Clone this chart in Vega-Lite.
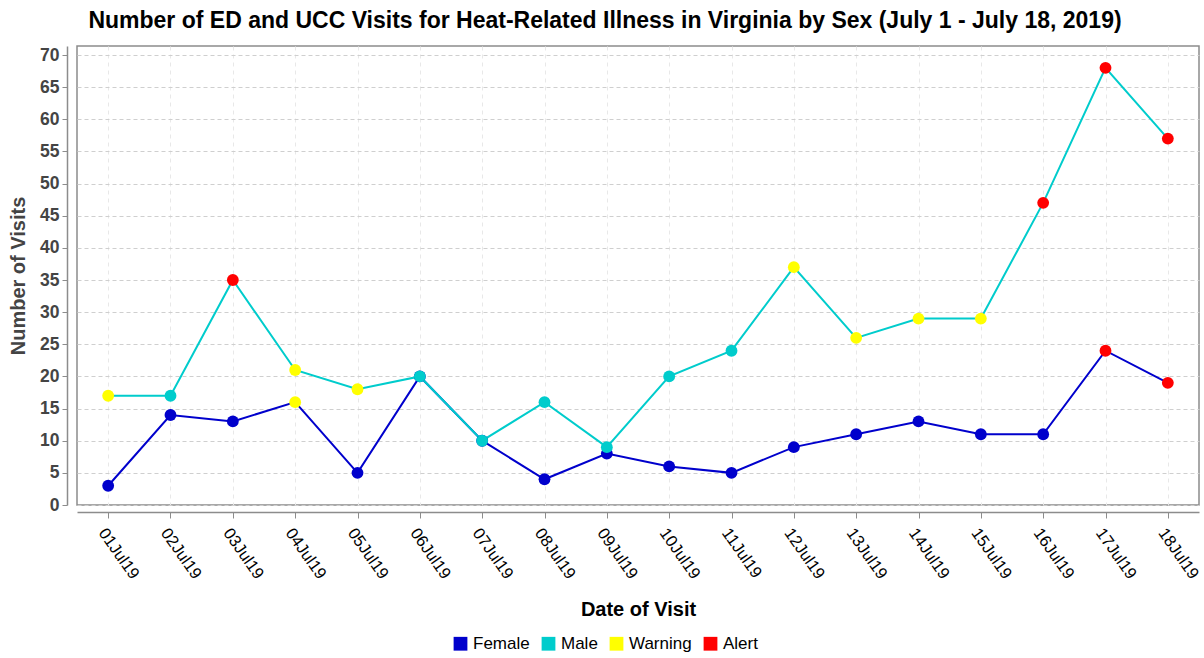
{
  "$schema": "https://vega.github.io/schema/vega-lite/v6.json",
  "autosize": {"type": "none"},
  "width": 1122,
  "height": 459,
  "padding": {"left": 77, "top": 46, "right": 5, "bottom": 153},
  "title": {"text": "Number of ED and UCC Visits for Heat-Related Illness in Virginia by Sex (July 1 - July 18, 2019)", "font": "Liberation Sans", "fontSize": 23, "fontWeight": "bold", "color": "#000", "offset": 13, "anchor": "middle", "dx": -33},
  "config": {
    "font": "Liberation Sans",
    "view": {"stroke": "#8c8c8c", "strokeWidth": 1.5}
  },
  "data": {"values": [
    {"date": "01Jul19", "sex": "Female", "visits": 3, "status": "Female"},
    {"date": "02Jul19", "sex": "Female", "visits": 14, "status": "Female"},
    {"date": "03Jul19", "sex": "Female", "visits": 13, "status": "Female"},
    {"date": "04Jul19", "sex": "Female", "visits": 16, "status": "Warning"},
    {"date": "05Jul19", "sex": "Female", "visits": 5, "status": "Female"},
    {"date": "06Jul19", "sex": "Female", "visits": 20, "status": "Female"},
    {"date": "07Jul19", "sex": "Female", "visits": 10, "status": "Female"},
    {"date": "08Jul19", "sex": "Female", "visits": 4, "status": "Female"},
    {"date": "09Jul19", "sex": "Female", "visits": 8, "status": "Female"},
    {"date": "10Jul19", "sex": "Female", "visits": 6, "status": "Female"},
    {"date": "11Jul19", "sex": "Female", "visits": 5, "status": "Female"},
    {"date": "12Jul19", "sex": "Female", "visits": 9, "status": "Female"},
    {"date": "13Jul19", "sex": "Female", "visits": 11, "status": "Female"},
    {"date": "14Jul19", "sex": "Female", "visits": 13, "status": "Female"},
    {"date": "15Jul19", "sex": "Female", "visits": 11, "status": "Female"},
    {"date": "16Jul19", "sex": "Female", "visits": 11, "status": "Female"},
    {"date": "17Jul19", "sex": "Female", "visits": 24, "status": "Alert"},
    {"date": "18Jul19", "sex": "Female", "visits": 19, "status": "Alert"},
    {"date": "01Jul19", "sex": "Male", "visits": 17, "status": "Warning"},
    {"date": "02Jul19", "sex": "Male", "visits": 17, "status": "Male"},
    {"date": "03Jul19", "sex": "Male", "visits": 35, "status": "Alert"},
    {"date": "04Jul19", "sex": "Male", "visits": 21, "status": "Warning"},
    {"date": "05Jul19", "sex": "Male", "visits": 18, "status": "Warning"},
    {"date": "06Jul19", "sex": "Male", "visits": 20, "status": "Male"},
    {"date": "07Jul19", "sex": "Male", "visits": 10, "status": "Male"},
    {"date": "08Jul19", "sex": "Male", "visits": 16, "status": "Male"},
    {"date": "09Jul19", "sex": "Male", "visits": 9, "status": "Male"},
    {"date": "10Jul19", "sex": "Male", "visits": 20, "status": "Male"},
    {"date": "11Jul19", "sex": "Male", "visits": 24, "status": "Male"},
    {"date": "12Jul19", "sex": "Male", "visits": 37, "status": "Warning"},
    {"date": "13Jul19", "sex": "Male", "visits": 26, "status": "Warning"},
    {"date": "14Jul19", "sex": "Male", "visits": 29, "status": "Warning"},
    {"date": "15Jul19", "sex": "Male", "visits": 29, "status": "Warning"},
    {"date": "16Jul19", "sex": "Male", "visits": 47, "status": "Alert"},
    {"date": "17Jul19", "sex": "Male", "visits": 68, "status": "Alert"},
    {"date": "18Jul19", "sex": "Male", "visits": 57, "status": "Alert"}
  ]},
  "encoding": {
    "x": {
      "field": "date", "type": "ordinal", "sort": null,
      "scale": {"type": "point", "padding": 0.5},
      "axis": {
        "title": "Date of Visit", "titleFontSize": 20, "titleFontWeight": "bold", "titleColor": "#000", "titlePadding": 18,
        "labelAngle": 55, "labelAlign": "left", "labelBaseline": "top", "labelFontSize": 16.5, "labelColor": "#000", "labelPadding": 7,
        "offset": 7, "domainColor": "#8c8c8c", "domainWidth": 1.5, "tickColor": "#8c8c8c", "tickSize": 6,
        "grid": true, "gridColor": "#e8e8e8", "gridDash": [4, 4]
      }
    },
    "y": {
      "field": "visits", "type": "quantitative",
      "scale": {"domain": [0, 71.4], "nice": false},
      "axis": {
        "title": "Number of Visits", "titleFontSize": 20, "titleFontWeight": "bold", "titleColor": "#444", "titlePadding": 11,
        "values": [0, 5, 10, 15, 20, 25, 30, 35, 40, 45, 50, 55, 60, 65, 70],
        "labelFontSize": 17.5, "labelFontWeight": "bold", "labelColor": "#444", "labelPadding": 3,
        "offset": 10, "domainColor": "#8c8c8c", "domainWidth": 1.5, "tickColor": "#8c8c8c", "tickSize": 5,
        "grid": true, "gridColor": "#cfcfcf", "gridDash": [4, 3]
      }
    },
    "color": {"field": "status", "type": "nominal",
      "scale": {"domain": ["Female", "Male", "Warning", "Alert"], "range": ["#0000cc", "#00cccc", "#ffff00", "#ff0000"]},
      "legend": {"title": null, "orient": "none", "legendX": 375, "legendY": 589, "direction": "horizontal", "symbolType": "square", "symbolSize": 190, "symbolStrokeWidth": 0, "symbolOpacity": 1, "labelFontSize": 17, "labelColor": "#000", "columnPadding": 10}
    }
  },
  "layer": [
    {
      "mark": {"type": "line", "strokeWidth": 2},
      "encoding": {
        "color": {"field": "sex", "type": "nominal",
          "scale": {"domain": ["Female", "Male", "Warning", "Alert"], "range": ["#0000cc", "#00cccc", "#ffff00", "#ff0000"]},
          "legend": {"title": null, "orient": "none", "legendX": 375, "legendY": 589, "direction": "horizontal", "symbolType": "square", "symbolSize": 190, "symbolStrokeWidth": 0, "symbolOpacity": 1, "labelFontSize": 17, "labelColor": "#000", "columnPadding": 10}
        },
        "detail": {"field": "sex"}
      }
    },
    {
      "mark": {"type": "point", "filled": true, "opacity": 1, "size": 140}
    }
  ]
}
